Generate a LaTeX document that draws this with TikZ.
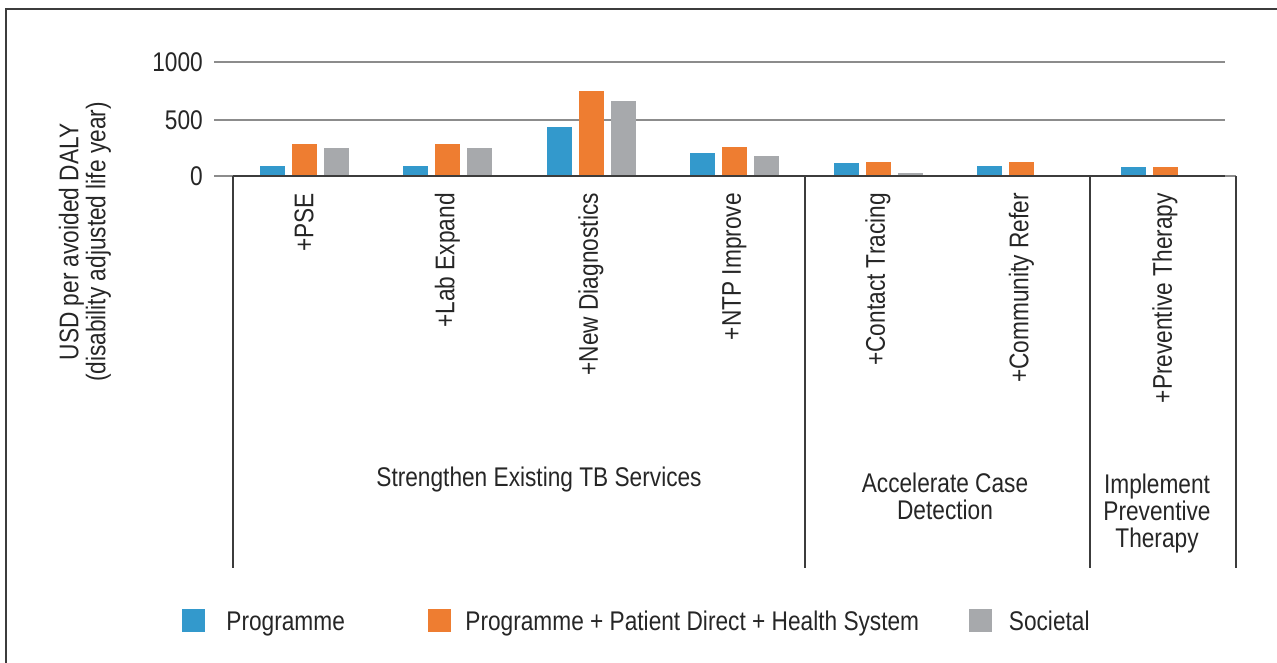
\documentclass[tikz,border=0pt]{standalone}
\usepackage{fontspec}
\setmainfont{Liberation Sans}[FakeStretch=0.84]
\usetikzlibrary{positioning}

\definecolor{progblue}{HTML}{3399CC}
\definecolor{patorange}{HTML}{EE7D31}
\definecolor{socgray}{HTML}{A7A9AC}
\definecolor{linegray}{HTML}{8C8C8C}
\definecolor{framegray}{HTML}{3C3C3C}

\begin{document}
\begin{tikzpicture}[x=1pt, y=-1pt, font=\fontsize{27}{27}\selectfont, text=black!85,
    grid/.style={linegray, line width=1.6pt},
    divider/.style={framegray, line width=1.5pt},
    tick/.style={anchor=east, inner sep=0pt},
    cat/.style={rotate=90, anchor=east, inner sep=0pt},
    grp/.style={align=center, inner sep=0pt},
    swatch/.style={minimum size=23pt, inner sep=0pt},
    legtext/.style={inner sep=0pt, text height=19.3pt, text depth=0pt}]
    \useasboundingbox (0,0) rectangle (1277,662);
    \def\ys{0.114}

    % frame
    \draw[framegray, line width=1.5pt] (6,700) -- (6,9) -- (1300,9);

    % value axis
    \foreach \v/\yy in {1000/62, 500/120, 0/176} {
        \node[tick] (t\v) at (203,\yy) {\v};
        \draw[grid] ([xshift=11pt]t\v.east) -- (1225,\yy);
    }
    \node[grp, rotate=90] (ylab) at (85,242) {USD per avoided DALY\\(disability adjusted life year)};

    % bars: programme / + patient + health system / societal
    \foreach \g/\a/\b/\c in {0/90/280/243, 1/90/280/243, 2/427/748/660, 3/204/252/178,
                             4/114/123/30, 5/90/123/0, 6/82/76/0} {
        \pgfmathsetmacro\cx{304+143.5*\g}
        \fill[progblue] (\cx-44.5,176) rectangle (\cx-19.5,{176-\a*\ys});
        \fill[patorange] (\cx-12.5,176) rectangle (\cx+12.5,{176-\b*\ys});
        \fill[socgray] (\cx+19.5,176) rectangle (\cx+44.5,{176-\c*\ys});
    }
    \draw[framegray, line width=2pt] (233,176) -- (1225,176);
    \draw[linegray, line width=1.6pt] (1225,176) -- (1236,176);

    % category boxes
    \foreach \x in {233,805,1090,1236}
        \draw[divider] (\x,176) -- (\x,568);

    \foreach \g/\txt in {0/+PSE, 1/+Lab Expand, 2/+New Diagnostics, 3/+NTP Improve,
                         4/+Contact Tracing, 5/+Community Refer, 6/+Preventive Therapy}
        \node[cat] (c\g) at ({304+143.5*\g},193) {\txt};

    \node[grp] (g1) at (539,480) {Strengthen Existing TB Services};
    \node[grp] (g2) at (945,496) {Accelerate Case\\Detection};
    \node[grp] (g3) at (1157,514) {Implement\\Preventive\\Therapy};

    % legend
    \node[swatch, fill=progblue] (s1) at (193.5,620.5) {};
    \node[legtext, right=21pt of s1] (l1) {Programme};
    \node[swatch, fill=patorange] (s2) at (439.5,620.5) {};
    \node[legtext, right=14pt of s2] (l2) {Programme + Patient Direct + Health System};
    \node[swatch, fill=socgray] (s3) at (980,620.5) {};
    \node[legtext, right=17pt of s3] (l3) {Societal};
\end{tikzpicture}
\end{document}
